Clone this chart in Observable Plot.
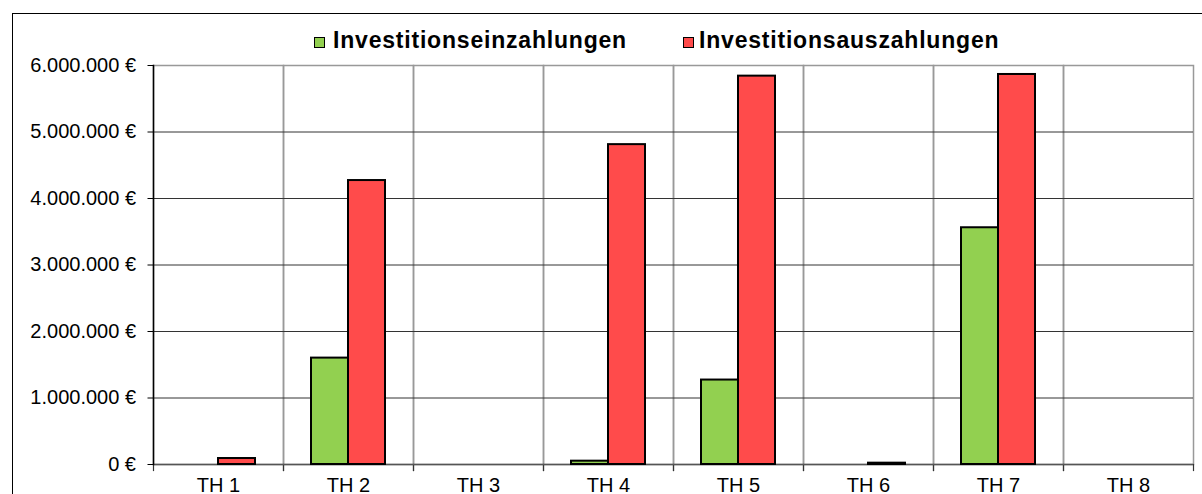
<!DOCTYPE html>
<html><head><meta charset="utf-8">
<script src="https://cdn.jsdelivr.net/npm/d3@7"></script>
<script src="https://cdn.jsdelivr.net/npm/@observablehq/plot@0.6"></script>
<style>
html,body{margin:0;padding:0;background:#fff;overflow:hidden;width:1202px;height:494px}
#frame{position:absolute;left:12px;top:13px;width:1300px;height:600px;border:1.5px solid #000;box-sizing:border-box}
#chart{position:absolute;left:0;top:0}
#legend{position:absolute;left:0;top:0;width:1202px;height:60px;font-family:"Liberation Sans",Arial,sans-serif;font-weight:bold;font-size:23px;letter-spacing:0.8px;color:#000}
.sw{position:absolute;width:11px;height:11px;border:1.5px solid #000;box-sizing:border-box}
.lt{position:absolute;line-height:23px;white-space:nowrap}
</style></head><body>
<div id="frame"></div>
<div id="chart"></div>
<div id="legend"></div>
<script>
const categories = ["TH 1", "TH 2", "TH 3", "TH 4", "TH 5", "TH 6", "TH 7", "TH 8"];
const seriesNames = ["Investitionseinzahlungen", "Investitionsauszahlungen"];
const einzahlungen = [0, 1600000, 0, 50000, 1270000, 0, 3560000, 0];
const auszahlungen = [90000, 4270000, 0, 4810000, 5840000, 20000, 5865000, 0];
const seriesColors = ["#92D050", "#FF4B4B"];
const yTicks = [0, 1000000, 2000000, 3000000, 4000000, 5000000, 6000000];

const allData = categories.flatMap((c, i) => [
  {cat: c, series: seriesNames[0], value: einzahlungen[i]},
  {cat: c, series: seriesNames[1], value: auszahlungen[i]}
]);
const data = allData.filter(d => d.value > 0);

const fmt = d => d3.format(",")(d).replace(/,/g, ".") + " €";

const W = 1202, H = 494, mL = 149, mR = 6, mT = 65, mB = 30;

const chart = Plot.plot({
  width: W, height: H,
  marginLeft: mL, marginRight: mR, marginTop: mT, marginBottom: mB,
  style: {fontFamily: '"Liberation Sans", Arial, sans-serif', fontSize: "20px", color: "#000", background: "transparent", overflow: "visible"},
  fx: {domain: categories, padding: 0, label: null, axis: null},
  x: {domain: seriesNames, paddingInner: 0, paddingOuter: 0.72, axis: null},
  y: {domain: [0, 6000000], axis: null},
  color: {domain: seriesNames, range: seriesColors},
  marks: [
    // invisible mark so that every category facet (also empty ones) exists
    Plot.dot(allData, {fx: "cat", x: "series", y: "value", r: 0, stroke: "none", fill: "none"}),
    Plot.frame({stroke: "#999", strokeWidth: 1.5}),
    Plot.ruleY(yTicks.slice(1, -1), {stroke: "#333", strokeWidth: 1}),
    Plot.frame({anchor: "left", stroke: "#333", strokeWidth: 1.2, insetTop: H - mT - mB, insetBottom: -6}),
    Plot.frame({anchor: "right", stroke: "#333", strokeWidth: 1.2, insetTop: H - mT - mB, insetBottom: -6}),
    Plot.ruleY([0], {stroke: "#555", strokeWidth: 1.5}),
    Plot.barY(data, {fx: "cat", x: "series", y: "value", fill: "series", stroke: "#000", strokeWidth: 2}),
    Plot.axisFx({anchor: "bottom", tickSize: 0, tickPadding: 13, label: null, fontSize: 20}),
    Plot.axisY(yTicks, {anchor: "left", tickSize: 5.5, tickPadding: 12, tickFormat: fmt, label: null, fontSize: 20, stroke: "#000"}),
    Plot.frame({anchor: "left", stroke: "#000", strokeWidth: 1.5, facetAnchor: "left"})
  ]
});
document.getElementById("chart").appendChild(chart);

// Legend
const legend = document.getElementById("legend");
const legendPos = [{sq: 314, tx: 333}, {sq: 683, tx: 699}];
seriesNames.forEach((name, i) => {
  const sw = document.createElement("div");
  sw.className = "sw";
  sw.style.left = legendPos[i].sq + "px";
  sw.style.top = "37px";
  sw.style.background = seriesColors[i];
  legend.appendChild(sw);
  const t = document.createElement("div");
  t.className = "lt";
  t.style.left = legendPos[i].tx + "px";
  t.style.top = "29px";
  t.textContent = name;
  legend.appendChild(t);
});
</script>
</body></html>
